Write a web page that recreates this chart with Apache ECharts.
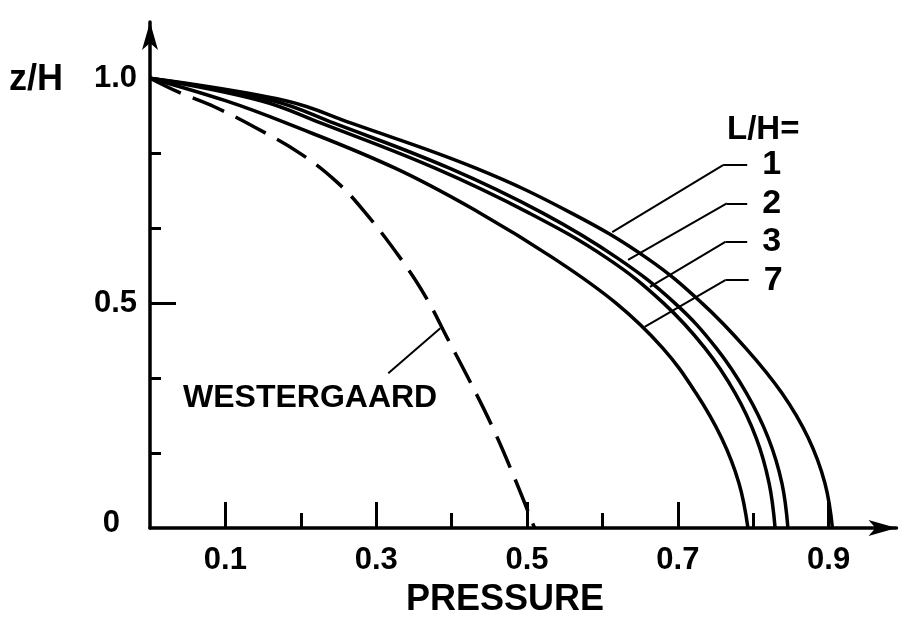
<!DOCTYPE html>
<html>
<head>
<meta charset="utf-8">
<script src="https://cdn.jsdelivr.net/npm/echarts@6/dist/echarts.min.js"></script>
<style>
html, body { margin: 0; padding: 0; background: #fff; }
#chart { width: 912px; height: 621px; }
</style>
</head>
<body>
<div id="chart"></div>
<script>
// curves, points are [pressure, z/H]
const lhOne = [[0, 1], [0.18, 0.95], [0.267, 0.9], [0.432, 0.8], [0.559, 0.7], [0.659, 0.6], [0.732, 0.5], [0.79, 0.4], [0.838, 0.3], [0.873, 0.2], [0.895, 0.1], [0.905, 0]]
const lhTwo = [[0, 1], [0.163, 0.95], [0.244, 0.9], [0.397, 0.8], [0.521, 0.7], [0.62, 0.6], [0.696, 0.5], [0.751, 0.4], [0.791, 0.3], [0.82, 0.2], [0.838, 0.1], [0.846, 0]]
const lhThree = [[0, 1], [0.147, 0.95], [0.227, 0.9], [0.378, 0.8], [0.503, 0.7], [0.606, 0.6], [0.681, 0.5], [0.736, 0.4], [0.776, 0.3], [0.804, 0.2], [0.821, 0.1], [0.829, 0]]
const lhSeven = [[0, 1], [0.1, 0.95], [0.181, 0.9], [0.325, 0.8], [0.438, 0.7], [0.535, 0.6], [0.618, 0.5], [0.68, 0.4], [0.724, 0.3], [0.758, 0.2], [0.781, 0.1], [0.793, 0]]
const westergaard = [[0, 1], [0.038, 0.969], [0.086, 0.936], [0.139, 0.891], [0.199, 0.833], [0.248, 0.769], [0.286, 0.7], [0.332, 0.6], [0.366, 0.513], [0.395, 0.42], [0.423, 0.33], [0.454, 0.225], [0.483, 0.113], [0.51, 0]]

const curveLabels = ['1', '2', '3', '7']
const xLongTicks = [0.1, 0.3, 0.5, 0.7, 0.9]
const xShortTicks = [0.2, 0.4, 0.6, 0.8]
const yLongTicks = [0.5]
const yShortTicks = [1 / 6, 2 / 6, 4 / 6, 5 / 6]
const yTickLabels = [0, 0.5, 1]

// leader lines in data units: point on curve, elbow, end of the short horizontal
const leaderLines = [
  [[0.613, 0.658], [0.76, 0.807], [0.792, 0.807]],
  [[0.634, 0.596], [0.765, 0.722], [0.792, 0.722]],
  [[0.663, 0.536], [0.763, 0.636], [0.792, 0.636]],
  [[0.656, 0.447], [0.763, 0.551], [0.794, 0.551]]
]
const westLeader = [[0.316, 0.344], [0.385, 0.444]]

const FONT = 'Liberation Sans, Arial, sans-serif'
const ink = '#000'

function leaderMark(pts, label) {
  const data = []
  for (let i = 0; i < pts.length - 1; i++) {
    const start = { coord: pts[i] }
    if (label && i === pts.length - 2) {
      start.label = {
        show: true,
        position: 'end',
        distance: 15,
        formatter: label,
        color: ink,
        fontSize: 34,
        fontWeight: 'bold',
        fontFamily: FONT
      }
    }
    data.push([start, { coord: pts[i + 1] }])
  }
  return {
    silent: true,
    symbol: 'none',
    animation: false,
    label: { show: false },
    lineStyle: { color: ink, width: 2, type: 'solid' },
    emphasis: { disabled: true },
    data: data
  }
}

function curve(name, data, idx) {
  return {
    name: name,
    type: 'line',
    data: data,
    symbol: 'none',
    smooth: 0.4,
    lineStyle: { color: ink, width: 3.5 },
    markLine: leaderMark(leaderLines[idx], name)
  }
}

function baseX(extra) {
  return Object.assign({
    type: 'value',
    min: 0,
    max: 0.99,
    position: 'bottom',
    axisLine: { onZero: false, show: false },
    splitLine: { show: false },
    axisLabel: { show: false },
    axisTick: { show: false }
  }, extra)
}

function baseY(extra) {
  return Object.assign({
    type: 'value',
    min: 0,
    max: 1.125,
    position: 'left',
    axisLine: { onZero: false, show: false },
    splitLine: { show: false },
    axisLabel: { show: false },
    axisTick: { show: false }
  }, extra)
}

const option = {
  animation: false,
  backgroundColor: '#fff',
  grid: { left: 150, right: 15.5, top: 22, bottom: 93 },
  xAxis: [
    baseX({
      axisLine: { show: true, onZero: false, symbol: ['none', 'arrow'], symbolSize: [12, 28], lineStyle: { color: ink, width: 3.5 } },
      axisTick: { show: true, inside: true, length: 15, customValues: xShortTicks, lineStyle: { color: ink, width: 3 } },
      axisLabel: {
        show: true,
        customValues: xLongTicks,
        margin: 17,
        color: ink,
        fontSize: 31,
        fontWeight: 'bold',
        fontFamily: FONT,
        formatter: v => v.toFixed(1)
      }
    }),
    baseX({
      axisTick: { show: true, inside: true, length: 26, customValues: xLongTicks, lineStyle: { color: ink, width: 3 } }
    })
  ],
  yAxis: [
    baseY({
      axisLine: { show: true, onZero: false, symbol: ['none', 'arrow'], symbolSize: [12, 28], lineStyle: { color: ink, width: 3.5 } },
      axisTick: { show: true, inside: true, length: 11, customValues: yShortTicks, lineStyle: { color: ink, width: 3 } },
      axisLabel: {
        show: true,
        customValues: yTickLabels,
        margin: 13,
        color: ink,
        fontSize: 31,
        fontWeight: 'bold',
        fontFamily: FONT,
        formatter: v => (v === 0 ? '{z|0}' : v.toFixed(1)),
        rich: {
          z: { padding: [0, 17, 10, 0], color: ink, fontSize: 31, fontWeight: 'bold', fontFamily: FONT }
        }
      }
    }),
    baseY({
      axisTick: { show: true, inside: true, length: 26, customValues: yLongTicks, lineStyle: { color: ink, width: 3 } }
    })
  ],
  graphic: [
    { type: 'text', left: 9, top: 62, style: { text: 'z/H', fill: ink, font: 'bold 36px ' + FONT } },
    { type: 'text', left: 727, top: 113, style: { text: 'L/H=', fill: ink, font: 'bold 33px ' + FONT } },
    { type: 'text', left: 183, top: 382, style: { text: 'WESTERGAARD', fill: ink, font: 'bold 32px ' + FONT } },
    { type: 'text', left: 406, top: 582, style: { text: 'PRESSURE', fill: ink, font: 'bold 36px ' + FONT } }
  ],
  series: [
    curve(curveLabels[0], lhOne, 0),
    curve(curveLabels[1], lhTwo, 1),
    curve(curveLabels[2], lhThree, 2),
    curve(curveLabels[3], lhSeven, 3),
    {
      name: 'WESTERGAARD',
      type: 'line',
      data: westergaard,
      symbol: 'none',
      smooth: 0.4,
      lineStyle: { color: ink, width: 3.5, type: [34, 13] },
      markLine: leaderMark([westLeader[0], westLeader[1]], null)
    }
  ]
}

const chart = echarts.init(document.getElementById('chart'))
chart.setOption(option)
window.addEventListener('resize', () => chart.resize())
</script>
</body>
</html>
